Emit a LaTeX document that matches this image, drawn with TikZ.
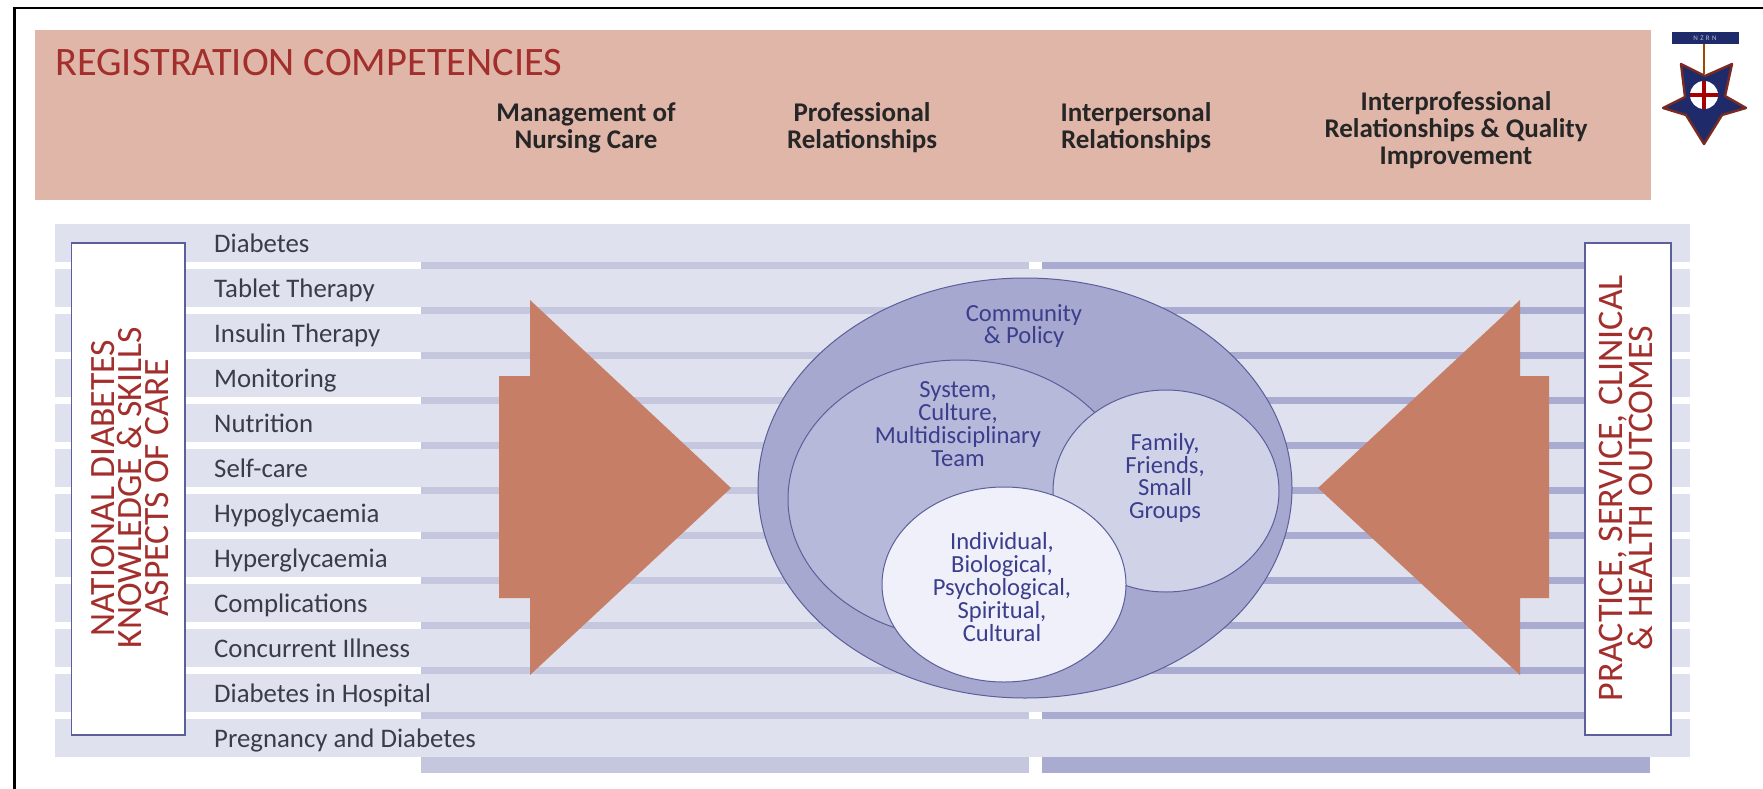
\documentclass[tikz,border=0pt]{standalone}
\usepackage{fontspec}
\setmainfont{Carlito}
\newcommand{\fsz}[1]{\fontsize{#1}{#1}\selectfont}
\definecolor{panelc}{HTML}{DFE1EF}
\definecolor{salmonc}{HTML}{E0B6A9}
\definecolor{barl}{HTML}{C5C7DF}
\definecolor{bard}{HTML}{A9ABD0}
\definecolor{edgec}{HTML}{5C5F9A}
\definecolor{outerc}{HTML}{A6A8CF}
\definecolor{midc}{HTML}{B7B9DA}
\definecolor{famc}{HTML}{D0D2E8}
\definecolor{indc}{HTML}{EFF0F9}
\definecolor{arrc}{HTML}{C67F66}
\definecolor{redt}{HTML}{A32F2C}
\definecolor{bluet}{HTML}{3B3E8C}
\definecolor{labelc}{HTML}{3A3C48}
\definecolor{medalb}{HTML}{1F2A6B}
\definecolor{medalr}{HTML}{7A2A20}
\tikzset{
  x=1pt,y=-1pt,
  rowlabel/.style={anchor=base west,inner sep=0pt,text=labelc,font=\fsz{26.8}},
  head/.style={align=center,inner sep=0pt,font=\fsz{27}\bfseries,text=black!85,execute at begin node={\setlength{\baselineskip}{27pt}}},
  sidebox/.style={draw=edgec,line width=1.6pt,fill=white,inner sep=0pt},
  vtext/.style={rotate=90,align=center,inner sep=0pt,text=redt},
  ctext/.style={align=center,inner sep=0pt,text=bluet,font=\fsz{24.6},execute at begin node={\setlength{\baselineskip}{22.8pt}}},
  arrowshape/.style={fill=arrc,draw=none}
}
\begin{document}
\begin{tikzpicture}
\useasboundingbox (0,0) rectangle (1763,789);
\fill[white] (0,0) rectangle (1763,789);
% outer frame
\draw[black,line width=2.4pt] (14.5,789) -- (14.5,8) -- (1763,8);
% salmon header
\fill[salmonc] (35,30) rectangle (1651,200);
% panel
\fill[panelc] (55,224) rectangle (1690,757);
% separators
\foreach \yy in {265,310,355,400,445,490,535,580,625,670,715}{
  \fill[white] (55,\yy-3.5) rectangle (1690,\yy+3.5);
  \fill[barl] (421,\yy-3.5) rectangle (1029,\yy+3.5);
  \fill[bard] (1042,\yy-3.5) rectangle (1600,\yy+3.5);
}
% bottom bars
\fill[barl] (421,757) rectangle (1029,773);
\fill[bard] (1042,757) rectangle (1650,773);
% side boxes
\node[sidebox,minimum width=113.5pt,minimum height=492pt] (lbox) at (128.25,489) {};
\node[sidebox,minimum width=86pt,minimum height=492pt] (rbox) at (1628,489) {};
\node[vtext,font=\fsz{35.6},execute at begin node={\setlength{\baselineskip}{27pt}}] (ltext) at (130,488) {NATIONAL DIABETES\\KNOWLEDGE \& SKILLS\\ASPECTS OF CARE};
\node[vtext,font=\fsz{36},execute at begin node={\setlength{\baselineskip}{30pt}}] (rtext) at (1626,488) {PRACTICE, SERVICE, CLINICAL\\\& HEALTH OUTCOMES};
% row labels
\node[rowlabel] (r1) at (214,252.5) {Diabetes};
\node[rowlabel] (r2) at (214,297.5) {Tablet Therapy};
\node[rowlabel] (r3) at (214,342.5) {Insulin Therapy};
\node[rowlabel] (r4) at (214,387.5) {Monitoring};
\node[rowlabel] (r5) at (214,432.5) {Nutrition};
\node[rowlabel] (r6) at (214,477.5) {Self-care};
\node[rowlabel] (r7) at (214,522.5) {Hypoglycaemia};
\node[rowlabel] (r8) at (214,567.5) {Hyperglycaemia};
\node[rowlabel] (r9) at (214,612.5) {Complications};
\node[rowlabel] (r10) at (214,657.5) {Concurrent Illness};
\node[rowlabel] (r11) at (214,702.5) {Diabetes in Hospital};
\node[rowlabel] (r12) at (214,747.5) {Pregnancy and Diabetes};
% arrows
\fill[arrowshape] (731,488) -- (530,300) -- (530,376) -- (499,376) -- (499,598) -- (530,598) -- (530,675) -- cycle;
\fill[arrowshape] (1318,488) -- (1520,300) -- (1520,376) -- (1549,376) -- (1549,598) -- (1520,598) -- (1520,675) -- cycle;
% ellipses
\draw[edgec,line width=1pt,fill=outerc] (1025,488) ellipse [x radius=267,y radius=210];
\draw[edgec,line width=1pt,fill=midc] (960,499) ellipse [x radius=172,y radius=139];
\draw[edgec,line width=1pt,fill=famc] (1166,491) ellipse [x radius=113,y radius=101];
\draw[edgec,line width=1pt,fill=indc] (1004,584.5) ellipse [x radius=122,y radius=97.5];
\node[ctext] (c1) at (1024,326) {Community\\\& Policy};
\node[ctext] (c2) at (958,424) {System,\\Culture,\\Multidisciplinary\\Team};
\node[ctext] (c3) at (1165,478) {Family,\\Friends,\\Small\\Groups};
\node[ctext] (c4) at (1002,587) {Individual,\\Biological,\\Psychological,\\Spiritual,\\Cultural};
% header text
\node[anchor=west,inner sep=0pt,text=redt,font=\fsz{40.4}] (title) at (55,63) {REGISTRATION COMPETENCIES};
\node[head] (h1) at (586,128) {Management of\\Nursing Care};
\node[head] (h2) at (862,128) {Professional\\Relationships};
\node[head] (h3) at (1136,128) {Interpersonal\\Relationships};
\node[head] (h4) at (1456,130) {Interprofessional\\Relationships \& Quality\\Improvement};
% medal
\draw[black!40!orange,line width=2.5pt] (1704,44) -- (1704,74);
\fill[medalb] (1672,32) rectangle (1739,44);
\node[inner sep=0pt,text=white!70!medalb,font=\fsz{7}] (medaltext) at (1705,38) {N\,\,Z\,\,R\,\,N};
\filldraw[fill=medalb,draw=medalr,line width=2.4pt,line join=round] (1704,144) -- (1722,115) -- (1746,108) -- (1725,96) -- (1732,64) -- (1705,76) -- (1681,64) -- (1685,97) -- (1663,108) -- (1686,115) -- cycle;
\fill[white] (1704,95) circle [radius=14];
\fill[red!65!black] (1702,81) rectangle (1706,109);
\fill[red!65!black] (1690,93) rectangle (1718,97);
\end{tikzpicture}
\end{document}
